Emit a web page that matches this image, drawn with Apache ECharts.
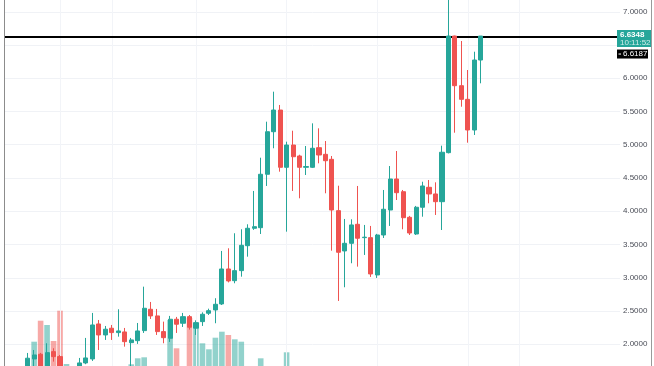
<!DOCTYPE html>
<html><head><meta charset="utf-8">
<script src="https://cdn.jsdelivr.net/npm/echarts@6/dist/echarts.min.js"></script>
<style>html,body{margin:0;padding:0;background:#fff;overflow:hidden;width:654px;height:366px;position:relative}#c{position:absolute;left:0;top:-22px;width:654px;height:400px}</style>
</head><body><div id="c"></div>
<script>
// ---- data ----
const opens = [1.614,1.779,1.850,1.620,1.889,1.814,1.600,1.620,1.660,1.719,1.779,2.305,2.140,2.241,2.175,2.185,2.024,2.054,2.205,2.526,2.426,2.190,2.090,2.376,2.316,2.415,2.241,2.340,2.466,2.516,2.606,3.132,2.956,3.107,3.482,3.744,3.753,4.556,5.196,5.522,4.661,4.996,4.831,4.661,4.661,4.956,4.856,4.781,4.009,3.403,3.518,3.804,3.603,3.603,3.042,3.643,4.019,4.485,4.294,3.909,3.658,4.060,4.360,4.260,4.144,4.881,6.635,5.888,5.683,5.222,6.274];
const closes = [1.790,1.839,1.584,1.874,1.814,1.600,1.620,1.640,1.719,1.794,2.290,2.140,2.226,2.175,2.200,2.039,2.065,2.200,2.541,2.426,2.190,2.099,2.376,2.301,2.415,2.256,2.325,2.451,2.505,2.601,3.132,2.952,3.107,3.488,3.744,3.768,4.556,5.196,5.522,4.661,4.996,4.820,4.661,4.672,4.947,4.846,4.760,4.019,3.383,3.518,3.794,3.594,3.610,3.057,3.643,4.030,4.485,4.279,3.903,3.673,4.060,4.380,4.260,4.144,4.887,6.635,5.888,5.683,5.222,6.274,6.6348];
const lows = [1.584,1.644,1.524,1.580,1.739,1.550,1.550,1.580,1.640,1.700,1.749,1.914,2.065,2.065,2.114,1.964,1.660,2.005,2.170,2.380,2.140,2.015,2.035,2.170,2.260,2.220,2.140,2.275,2.440,2.316,2.590,2.930,2.917,3.016,3.317,3.720,3.658,4.380,4.947,4.595,3.693,4.305,4.195,4.545,4.650,4.721,4.270,3.407,2.651,2.857,3.218,3.167,3.343,3.012,2.997,3.598,3.779,4.169,3.729,3.643,3.643,3.918,4.120,3.944,3.718,4.870,5.181,5.572,5.031,5.147,5.924];
const highs = [1.869,1.914,1.870,2.015,1.940,1.839,1.660,1.660,1.794,2.095,2.471,2.365,2.275,2.290,2.526,2.245,2.095,2.320,2.866,2.636,2.531,2.340,2.426,2.411,2.471,2.440,2.360,2.480,2.535,2.692,3.403,3.443,3.669,3.729,3.804,4.305,4.805,5.347,5.798,5.598,5.046,5.211,4.850,4.981,5.322,5.247,5.056,4.831,4.384,3.884,3.879,4.380,3.794,3.779,3.660,4.320,4.680,4.906,4.320,3.930,4.080,4.444,4.470,4.435,4.986,7.350,6.640,6.560,6.124,6.399,6.6348];
const volumes = [0,24.3,45.3,41,25,55.3,2,0,0,0,0,0,0,0,0,0,1.7,7.7,8.7,0,0,0,46,17.7,0,48,37.7,22.7,16.7,28.3,34.3,31,26.7,24.3,0,0,7.7,0,0,0,13.7,0,0,0,0,0,0,0,0,0,0,0,0,0,0,0,0,0,0,0,0,0,0,0,0,0,0,0,0,0,0];
const yTicks = [2.0,2.5,3.0,3.5,4.0,4.5,5.0,5.5,6.0,6.5,7.0];
const lastPrice = 6.6348;
const lastTime = '10:11:52';
const otherPrice = 6.6187;
const timeGridIdx = [5,13,26,40,54,68,76];
const leadBlanks = 3, trailBlanks = 21;

// ---- build ----
const OFF = 22; // container is shifted up by this many px so that the axis can run 1.5..7.5
const N = leadBlanks + opens.length + trailBlanks;
const categories = Array.from({length: N}, (_, i) => 'P' + (i + 1));
const UP = '#26a69a', DOWN = '#ef5350';
const candleData = [], volData = [];
for (let i = 0; i < N; i++) {
  const k = i - leadBlanks;
  if (k >= 0 && k < opens.length) {
    candleData.push([opens[k], closes[k], lows[k], highs[k]]);
    const up = closes[k] >= opens[k];
    volData.push({value: volumes[k], itemStyle: {color: up ? 'rgba(38,166,154,0.5)' : 'rgba(239,83,80,0.5)'}});
  } else {
    candleData.push('-');
    volData.push('-');
  }
}
const hideLabels = [6.5];
const chart = echarts.init(document.getElementById('c'), null, {renderer: 'canvas'});
const vLines = timeGridIdx.map(i => ({xAxis: categories[i + leadBlanks], lineStyle: {color: '#f2f4f8', width: 1, type: 'solid'}}));
chart.setOption({
  animation: false,
  backgroundColor: '#ffffff',
  grid: [
    {left: 5, right: 34, top: 0.5, bottom: 0.5},
    {left: 5, right: 34, top: 266 + OFF, bottom: 12}
  ],
  xAxis: [
    {type: 'category', data: categories, gridIndex: 0, boundaryGap: true, axisLine: {show: false}, axisTick: {show: false}, axisLabel: {show: false}, splitLine: {show: false}},
    {type: 'category', data: categories, gridIndex: 1, boundaryGap: true, axisLine: {show: false}, axisTick: {show: false}, axisLabel: {show: false}, splitLine: {show: false}}
  ],
  yAxis: [
    {type: 'value', gridIndex: 0, position: 'right', min: 1.5, max: 7.5, interval: 0.5,
     axisLine: {show: false}, axisTick: {show: false},
     axisLabel: {margin: 3, color: '#4a4d57', fontSize: 8, fontFamily: 'Liberation Sans, Arial, sans-serif',
       formatter: v => (yTicks.some(t => Math.abs(t - v) < 1e-6) && !hideLabels.some(t => Math.abs(t - v) < 1e-6)) ? v.toFixed(4) : ''},
     splitLine: {show: true, lineStyle: {color: '#f0f2f6', width: 1}}},
    {type: 'value', gridIndex: 1, min: 0, max: 100, show: false, splitLine: {show: false}}
  ],
  series: [
    {type: 'bar', xAxisIndex: 1, yAxisIndex: 1, data: volData, barWidth: 5.6, z: 1, silent: true},
    {type: 'candlestick', xAxisIndex: 0, yAxisIndex: 0, data: candleData, barWidth: 4.6, z: 3,
     itemStyle: {color: UP, color0: DOWN, borderColor: UP, borderColor0: DOWN, borderWidth: 1},
     markLine: {silent: true, symbol: ['none', 'none'], label: {show: false}, z: 2,
       data: vLines.concat([{yAxis: lastPrice, lineStyle: {color: '#000000', width: 2, type: 'solid'}}])}}
  ]
});
const yL = chart.convertToPixel({yAxisIndex: 0}, lastPrice);
chart.setOption({
  graphic: [
    {type: 'rect', shape: {x: 617, y: yL - 6, width: 34, height: 17}, style: {fill: UP}, z: 100},
    {type: 'text', x: 620, y: yL - 5, style: {text: lastPrice.toFixed(4), fill: '#ffffff', font: 'bold 8px Liberation Sans, Arial, sans-serif'}, z: 101},
    {type: 'text', x: 620, y: yL + 3, style: {text: lastTime, fill: 'rgba(255,255,255,0.8)', font: '8px Liberation Sans, Arial, sans-serif'}, z: 101},
    {type: 'rect', shape: {x: 617, y: yL + 13.5, width: 31, height: 9}, style: {fill: '#000000'}, z: 100},
    {type: 'line', shape: {x1: 618.5, y1: yL + 18, x2: 621, y2: yL + 18}, style: {stroke: '#ffffff', lineWidth: 1}, z: 101},
    {type: 'text', x: 623, y: yL + 14, style: {text: otherPrice.toFixed(4), fill: '#ffffff', font: '8px Liberation Sans, Arial, sans-serif'}, z: 101},
    {type: 'line', shape: {x1: 4.5, y1: 0, x2: 4.5, y2: 400}, style: {stroke: '#8c8c8c', lineWidth: 1}, z: 100},
    {type: 'line', shape: {x1: 651.5, y1: 0, x2: 651.5, y2: 400}, style: {stroke: '#9a9a9a', lineWidth: 1}, z: 100}
  ]
});
</script></body></html>
